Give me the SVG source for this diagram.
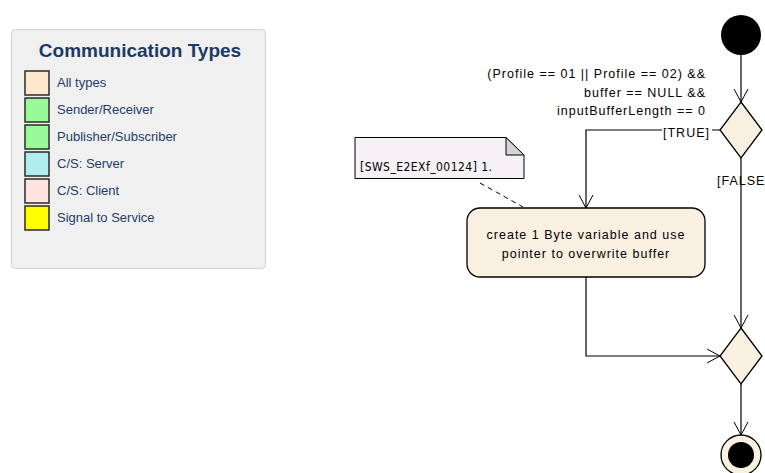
<svg xmlns="http://www.w3.org/2000/svg" width="765" height="473" viewBox="0 0 765 473">
<defs>
<marker id="arr" markerWidth="14" markerHeight="20" refX="13" refY="10" orient="auto" markerUnits="userSpaceOnUse">
<path d="M0,3 L13,10 L0,17" fill="none" stroke="#000" stroke-width="1"/>
</marker>
<style>
.lt{font-family:"Liberation Sans",Arial,sans-serif;font-size:13px;fill:#1f3c68}
.sw{stroke:#2a2a2a;stroke-width:1.5}
.fl{fill:#faf0e2;stroke:#000;stroke-width:1.3}
.tx{font-family:"Liberation Sans",Arial,sans-serif;font-size:12.5px;letter-spacing:1px;fill:#000}
.cn{fill:none;stroke:#000;stroke-width:1.2}
</style>
</defs>
<g id="legend">
<rect x="11.5" y="29.5" width="254" height="239" rx="4" fill="#f0f0f0" stroke="#d0d0d0"/>
<text x="140" y="57" text-anchor="middle" font-family="Liberation Sans,Arial,sans-serif" font-size="19" font-weight="bold" fill="#1a3a66">Communication Types</text>
<rect class="sw" x="25" y="71" width="24" height="24" fill="#ffe8cc"/>
<text class="lt" x="57" y="87">All types</text>
<rect class="sw" x="25" y="98" width="24" height="24" fill="#98fb98"/>
<text class="lt" x="57" y="114">Sender/Receiver</text>
<rect class="sw" x="25" y="125" width="24" height="24" fill="#98fb98"/>
<text class="lt" x="57" y="141">Publisher/Subscriber</text>
<rect class="sw" x="25" y="152" width="24" height="24" fill="#afeeee"/>
<text class="lt" x="57" y="168">C/S: Server</text>
<rect class="sw" x="25" y="179" width="24" height="24" fill="#ffe4e1"/>
<text class="lt" x="57" y="195">C/S: Client</text>
<rect class="sw" x="25" y="206" width="24" height="24" fill="#ffff00"/>
<text class="lt" x="57" y="222">Signal to Service</text>
</g>
<g id="connectors">
<line class="cn" x1="741" y1="55" x2="741" y2="102" marker-end="url(#arr)"/>
<polyline class="cn" points="720,130 586,130 586,208" marker-end="url(#arr)"/>
<line class="cn" x1="741" y1="158" x2="741" y2="328" marker-end="url(#arr)"/>
<polyline class="cn" points="586,277 586,356 720,356" marker-end="url(#arr)"/>
<line class="cn" x1="741" y1="384" x2="741" y2="435" marker-end="url(#arr)"/>
<line x1="480" y1="183" x2="523" y2="207" stroke="#000" stroke-width="1" stroke-dasharray="5,4"/>
<text class="tx" x="706" y="78" text-anchor="end">(Profile == 01 || Profile == 02) &amp;&amp;</text>
<text class="tx" x="706" y="96.5" text-anchor="end">buffer == NULL &amp;&amp;</text>
<text class="tx" x="706" y="114.5" text-anchor="end">inputBufferLength == 0</text>
<rect x="662" y="125" width="50" height="14" fill="#fff"/>
<text class="tx" x="663" y="137">[TRUE]</text>
<text class="tx" x="717" y="185">[FALSE</text>
</g>
<g id="start">
<circle cx="741" cy="35" r="20" fill="#000"/>
</g>
<g id="decision1">
<polygon class="fl" points="741,102 762,130 741,158 720,130"/>
</g>
<g id="note">
<path d="M355,137.5 L506,137.5 L524,155 L524,178.5 L355,178.5 Z" fill="#f5f1f5" stroke="#000" stroke-width="1"/>
<path d="M506,137.5 L506,155 L524,155 Z" fill="#d4d4d4" stroke="#000" stroke-width="1"/>
<text x="360" y="171" font-family="DejaVu Sans Condensed,DejaVu Sans,sans-serif" font-size="12" letter-spacing="0.45" fill="#000">[SWS_E2EXf_00124] 1.</text>
</g>
<g id="action">
<rect class="fl" x="467" y="208" width="238" height="69" rx="13"/>
<text class="tx" x="586" y="239" text-anchor="middle">create 1 Byte variable and use</text>
<text class="tx" x="586" y="258" text-anchor="middle">pointer to overwrite buffer</text>
</g>
<g id="decision2">
<polygon class="fl" points="741,328 762,356 741,384 720,356"/>
</g>
<g id="final">
<circle cx="741" cy="455" r="20" fill="#faf0e2" stroke="#000" stroke-width="1.3"/>
<circle cx="741" cy="455" r="13" fill="#000"/>
</g>
</svg>
